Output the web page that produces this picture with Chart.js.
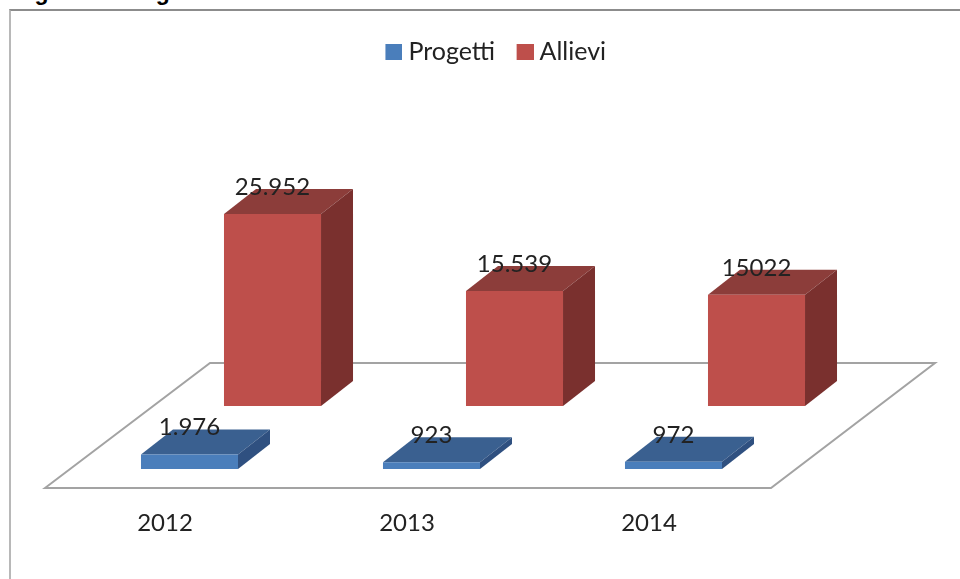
<!DOCTYPE html>
<html>
<head>
<meta charset="utf-8">
<style>
html,body{margin:0;padding:0;background:#fff;width:960px;height:579px;overflow:hidden}
#title{position:absolute;left:14px;top:-21px;font:bold 23px "Liberation Sans",sans-serif;color:#000;white-space:nowrap}
#frame{position:absolute;left:9px;top:9px;width:951px;height:580px;border-top:2px solid #8c8c8c;border-left:2px solid #b8b8b8;box-sizing:border-box}
#wrap{position:absolute;left:0;top:0;width:960px;height:579px;filter:blur(0.5px)}
</style>
</head>
<body>
<div id="title">Figura 1: Progetti e allievi</div>
<div id="frame"></div>
<div id="wrap"><canvas id="c" width="960" height="579"></canvas></div>
<script src="https://cdn.jsdelivr.net/npm/chart.js@4"></script>
<script>
const categories = ['2012', '2013', '2014'];
const progetti = [1976, 923, 972];
const allievi = [25952, 15539, 15022];
const progettiLabels = ['1.976', '923', '972'];
const allieviLabels = ['25.952', '15.539', '15022'];

const FONT = 'Lato, "Open Sans", sans-serif';
const DX = 32, DY = 25;
const faces = [
  {top:'#3A6090', side:'#2F5080'},
  {top:'#8C3D3A', side:'#7A302E'}
];
const textLabels = [progettiLabels, allieviLabels];

function legendSwatch(color) {
  const s = document.createElement('canvas');
  s.width = 21; s.height = 16;
  const g = s.getContext('2d');
  g.fillStyle = color;
  g.fillRect(4, 0, 17, 16);
  return s;
}

const plot3d = {
  id: 'plot3d',
  beforeDatasetsDraw(chart) {
    const {ctx, chartArea: a} = chart;
    const front = a.bottom + 19, back = a.bottom - 106;
    ctx.save();
    ctx.beginPath();
    ctx.moveTo(a.left - 65, front);
    ctx.lineTo(a.left + 100, back);
    ctx.lineTo(a.right + 99, back);
    ctx.lineTo(a.right - 65, front);
    ctx.closePath();
    ctx.fillStyle = '#fff';
    ctx.fill();
    ctx.lineWidth = 2;
    ctx.strokeStyle = '#a3a3a3';
    ctx.stroke();
    ctx.restore();
  },
  beforeDatasetDraw(chart, args) {
    const {ctx} = chart;
    const f = faces[args.index];
    ctx.save();
    args.meta.data.forEach(el => {
      const l = el.x - el.width / 2, r = el.x + el.width / 2, t = el.y, b = el.base;
      ctx.fillStyle = f.top;
      ctx.beginPath();
      ctx.moveTo(l, t); ctx.lineTo(l + DX, t - DY); ctx.lineTo(r + DX, t - DY); ctx.lineTo(r, t);
      ctx.closePath(); ctx.fill();
      ctx.fillStyle = f.side;
      ctx.beginPath();
      ctx.moveTo(r, t); ctx.lineTo(r + DX, t - DY); ctx.lineTo(r + DX, b - DY); ctx.lineTo(r, b);
      ctx.closePath(); ctx.fill();
    });
    ctx.restore();
  },
  afterDatasetsDraw(chart) {
    const {ctx} = chart;
    ctx.save();
    ctx.font = '24px ' + FONT;
    ctx.fillStyle = '#222';
    ctx.textAlign = 'center';
    ctx.textBaseline = 'middle';
    chart.data.datasets.forEach((ds, i) => {
      chart.getDatasetMeta(i).data.forEach((el, j) => {
        ctx.fillText(textLabels[i][j], el.x, el.y - 27);
      });
    });
    ctx.restore();
  }
};

new Chart(document.getElementById('c'), {
  type: 'bar',
  data: {
    labels: categories,
    datasets: [
      {label: 'Progetti', data: progetti, yAxisID: 'y', backgroundColor: '#4A7EBB', borderWidth: 0},
      {label: 'Allievi', data: allievi, yAxisID: 'y2', backgroundColor: '#BE4F4B', borderWidth: 0}
    ]
  },
  plugins: [plot3d],
  options: {
    responsive: false,
    animation: false,
    devicePixelRatio: 1,
    categoryPercentage: 0.686,
    barPercentage: 1.169,
    layout: {padding: {left: 34, top: 15}},
    plugins: {
      tooltip: {enabled: false},
      legend: {
        position: 'top',
        labels: {
          font: {family: FONT, size: 25}, color: '#222',
          usePointStyle: true, pointStyleWidth: 8, padding: 24,
          generateLabels(chart) {
            return Chart.defaults.plugins.legend.labels.generateLabels(chart).map((item, i) => {
              item.pointStyle = legendSwatch(chart.data.datasets[i].backgroundColor);
              return item;
            });
          }
        }
      }
    },
    scales: {
      x: {
        grid: {display: false}, border: {display: false},
        ticks: {labelOffset: -66, padding: 32, maxRotation: 0, color: '#222', font: {family: FONT, size: 24}},
        afterFit(s) { s.height = 110; }
      },
      y: {
        min: 0, max: 53378, position: 'left',
        grid: {display: false}, border: {display: false}, ticks: {display: false},
        afterFit(s) { s.width = 76; }
      },
      y2: {
        min: -8514, max: 44864, position: 'right',
        grid: {display: false}, border: {display: false}, ticks: {display: false},
        afterFit(s) { s.width = 124; }
      }
    }
  }
});
</script>
</body>
</html>
